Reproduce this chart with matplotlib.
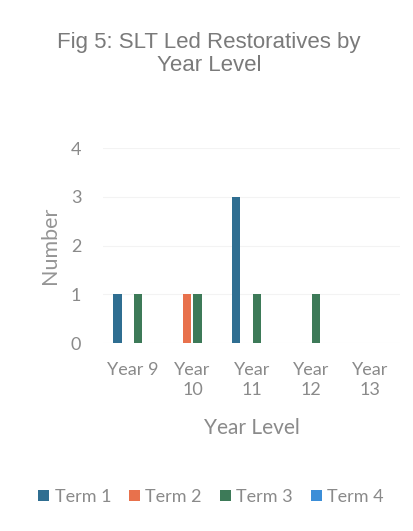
import numpy as np
import matplotlib
matplotlib.use('Agg')
import matplotlib.pyplot as plt

# restorative counts per year level, one list per term
year_levels = ['Year 9', 'Year\n10', 'Year\n11', 'Year\n12', 'Year\n13']
terms = ['Term 1', 'Term 2', 'Term 3', 'Term 4']
term1 = [1, 0, 3, 0, 0]
term2 = [0, 1, 0, 0, 0]
term3 = [1, 1, 1, 1, 0]
term4 = [0, 0, 0, 0, 0]
colors = ['#2f6e91', '#e8714c', '#3d7a58', '#3b8ed8']

text_grey = '#8a8a8a'

fig = plt.figure(figsize=(4.14, 5.31), dpi=100)
ax = fig.add_axes([0.25, 0.354, 0.716, 0.367])

x = np.arange(len(year_levels))
bar_width = 0.14
series = [term1, term2, term3, term4]
for i, (vals, name, col) in enumerate(zip(series, terms, colors)):
    ax.bar(x + (i - 1.5) * bar_width * 1.25, vals, width=bar_width, color=col, label=name)

ax.set_ylim(0, 4)
ax.set_xlim(-0.5, len(year_levels) - 0.5)
ax.set_yticks([0, 1, 2, 3, 4])
ax.yaxis.grid(True, color='#f3f3f3', linewidth=0.8)
ax.set_axisbelow(True)
for s in ax.spines.values():
    s.set_visible(False)
ax.tick_params(length=0)
ax.tick_params(axis='y', pad=16, labelsize=13, labelcolor=text_grey)
ax.tick_params(axis='x', pad=14, labelsize=13, labelcolor=text_grey)
ax.set_xticks(x)
ax.set_xticklabels(year_levels, family='Lato', linespacing=1.3, va='top')
for lbl in ax.get_yticklabels():
    lbl.set_family('Lato')

ax.set_ylabel('Number', family='Lato', fontsize=15.5, color='#959595', labelpad=8)
ax.set_xlabel('Year Level', family='Lato', fontsize=15, color=text_grey, labelpad=14)

fig.suptitle('Fig 5: SLT Led Restoratives by\nYear Level', x=0.505, y=0.94, va='top',
             family='Liberation Sans', fontsize=16, color='#7a7a7a', linespacing=1.15)

fig.legend(loc='center', bbox_to_anchor=(0.51, 0.064), ncol=4, frameon=False,
           handlelength=0.6, handleheight=0.6, handletextpad=0.3, columnspacing=1.0,
           prop={'family': 'Lato', 'size': 13}, labelcolor=text_grey)

fig.savefig('out.png', dpi=100, facecolor='white')
